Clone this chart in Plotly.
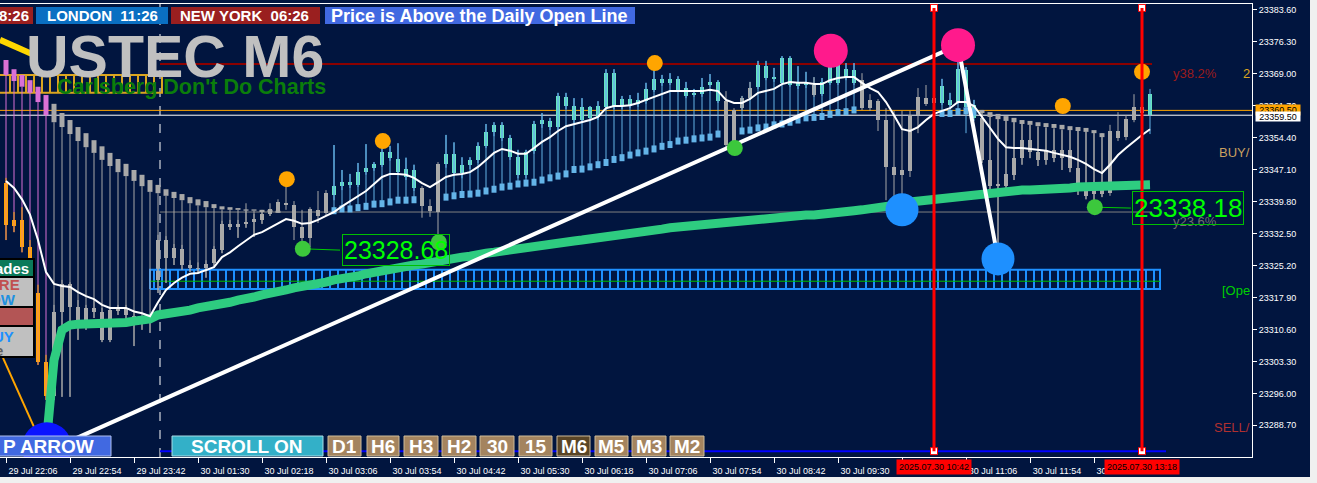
import plotly.graph_objects as go

FONT = "Liberation Sans, Arial, sans-serif"
BG = "#01153f"

# ---------------- data ----------------
time_labels = ["29 Jul 22:06", "29 Jul 22:54", "29 Jul 23:42", "30 Jul 01:30", "30 Jul 02:18",
               "30 Jul 03:06", "30 Jul 03:54", "30 Jul 04:42", "30 Jul 05:30", "30 Jul 06:18",
               "30 Jul 07:06", "30 Jul 07:54", "30 Jul 08:42", "30 Jul 09:30", "30 Jul 10:18",
               "30 Jul 11:06", "30 Jul 11:54", "30 Jul 12:42"]
label_bars = [0, 8, 16, 24, 32, 40, 48, 56, 64, 72, 80, 88, 96, 104, 112, 120, 128, 136]

price_ticks = [23288.7, 23296.0, 23303.3, 23310.6, 23317.9, 23325.2, 23332.5,
               23339.8, 23347.1, 23354.4, 23361.7, 23369.0, 23376.3, 23383.6]

opens = [
    23344.0, 23335.6, 23335.6, 23329.4, 23318.9, 23303.1, 23295.4, 23314.5, 23321.0, 23315.7,
    23312.2, 23315.5, 23314.5, 23308.2, 23315.0, 23315.2, 23313.6, 23312.2, 23312.7, 23321.9,
    23331.0, 23326.9, 23328.9, 23325.3, 23324.6, 23324.6, 23325.7, 23328.7, 23334.7, 23334.0,
    23334.7, 23335.1, 23335.6, 23337.0, 23337.7, 23339.4, 23338.9, 23334.0, 23331.5, 23337.9,
    23337.2, 23341.3, 23343.3, 23344.2, 23343.6, 23346.5, 23347.5, 23348.2, 23351.1, 23349.5,
    23347.2, 23347.0, 23342.9, 23338.7, 23337.4, 23348.4, 23350.7, 23346.3, 23348.2, 23349.3,
    23352.5, 23355.6, 23357.3, 23354.3, 23350.0, 23345.9, 23351.4, 23357.5, 23358.2, 23356.8,
    23363.7, 23361.6, 23358.4, 23361.4, 23359.1, 23361.4, 23369.1, 23361.6, 23363.2, 23362.1,
    23362.7, 23365.3, 23367.8, 23366.9, 23367.8, 23365.7, 23364.3, 23364.3, 23366.4, 23367.1,
    23362.7, 23352.7, 23361.1, 23363.4, 23366.0, 23370.7, 23368.0, 23366.9, 23372.6, 23366.2,
    23366.9, 23366.4, 23364.3, 23366.9, 23372.6, 23368.2, 23369.8, 23367.5, 23361.1, 23362.7,
    23358.4, 23347.7, 23345.9, 23346.8, 23359.5, 23363.4, 23363.4, 23362.3, 23363.0, 23362.5,
    23369.8, 23361.8, 23358.9, 23349.3, 23343.3, 23343.3, 23345.9, 23349.7, 23353.8, 23351.1,
    23349.3, 23351.6, 23349.7, 23351.6, 23347.5, 23342.4, 23341.5, 23342.9, 23341.7, 23355.9,
    23354.5, 23358.4, 23361.4, 23364.3]
highs = [
    23345.2, 23337.4, 23338.5, 23331.0, 23320.8, 23304.8, 23316.2, 23321.9, 23321.4, 23317.3,
    23316.2, 23317.3, 23315.5, 23315.5, 23316.2, 23316.2, 23314.3, 23313.2, 23313.6, 23332.2,
    23331.9, 23330.1, 23329.9, 23326.4, 23325.9, 23326.4, 23329.6, 23335.4, 23335.6, 23335.6,
    23339.4, 23337.0, 23337.9, 23339.4, 23340.3, 23344.9, 23339.9, 23337.9, 23338.5, 23342.2,
    23342.4, 23352.7, 23347.0, 23346.1, 23348.6, 23352.9, 23348.8, 23353.3, 23352.5, 23353.1,
    23349.8, 23348.2, 23343.3, 23340.3, 23348.8, 23355.0, 23353.3, 23349.9, 23349.9, 23353.3,
    23357.5, 23357.9, 23357.9, 23355.0, 23351.6, 23351.6, 23358.2, 23360.0, 23358.9, 23364.6,
    23364.6, 23363.4, 23363.4, 23361.6, 23362.7, 23370.0, 23370.0, 23363.9, 23364.1, 23364.6,
    23366.9, 23371.4, 23368.7, 23369.1, 23368.4, 23367.1, 23365.5, 23368.0, 23368.9, 23367.5,
    23365.0, 23361.1, 23363.9, 23367.1, 23371.9, 23371.9, 23370.3, 23373.0, 23373.0, 23370.7,
    23369.4, 23368.2, 23368.0, 23373.9, 23373.5, 23371.4, 23371.4, 23369.1, 23364.3, 23363.2,
    23361.1, 23360.5, 23360.5, 23360.5, 23365.7, 23366.4, 23367.1, 23367.8, 23364.6, 23375.5,
    23370.5, 23363.0, 23360.7, 23359.5, 23359.1, 23358.6, 23358.4, 23357.9, 23357.3, 23356.8,
    23356.6, 23356.3, 23356.1, 23356.1, 23355.9, 23356.3, 23355.9, 23355.4, 23357.3, 23360.2,
    23359.5, 23364.3, 23364.3, 23365.5]
lows = [
    23331.0, 23332.8, 23328.2, 23318.2, 23302.5, 23294.5, 23294.5, 23295.2, 23295.2, 23308.2,
    23310.5, 23313.2, 23307.7, 23307.7, 23313.9, 23312.7, 23306.8, 23310.5, 23309.8, 23318.9,
    23321.2, 23325.3, 23324.2, 23323.7, 23323.5, 23322.4, 23325.0, 23328.0, 23333.3, 23331.5,
    23333.8, 23331.7, 23334.7, 23336.5, 23337.2, 23337.9, 23331.0, 23330.3, 23329.4, 23334.9,
    23336.7, 23340.1, 23342.4, 23342.9, 23343.1, 23345.9, 23346.8, 23347.7, 23349.1, 23345.9,
    23344.7, 23342.2, 23336.1, 23336.3, 23330.3, 23347.5, 23345.6, 23345.1, 23347.2, 23348.6,
    23352.0, 23354.7, 23353.6, 23349.3, 23345.1, 23345.1, 23350.7, 23356.6, 23356.1, 23356.1,
    23360.9, 23357.7, 23357.7, 23358.2, 23358.4, 23360.7, 23360.9, 23360.9, 23361.1, 23361.4,
    23362.1, 23364.8, 23366.2, 23366.4, 23364.8, 23363.4, 23363.7, 23363.7, 23366.0, 23362.3,
    23352.2, 23351.6, 23360.7, 23363.0, 23365.5, 23367.5, 23367.1, 23366.4, 23366.0, 23365.5,
    23365.7, 23363.7, 23363.9, 23366.4, 23366.4, 23367.5, 23366.4, 23360.7, 23360.5, 23355.9,
    23340.1, 23340.1, 23337.6, 23345.4, 23355.4, 23361.6, 23361.8, 23361.8, 23361.4, 23362.1,
    23355.4, 23358.2, 23348.6, 23342.4, 23327.8, 23342.4, 23344.7, 23348.2, 23349.7, 23347.9,
    23348.2, 23348.8, 23347.0, 23346.5, 23341.3, 23340.3, 23339.0, 23340.8, 23341.1, 23353.6,
    23353.8, 23357.9, 23359.3, 23355.2]
closes = [
    23334.5, 23334.2, 23329.4, 23319.6, 23303.1, 23295.4, 23314.5, 23321.0, 23315.7, 23312.2,
    23315.5, 23314.5, 23308.2, 23315.0, 23315.2, 23313.9, 23312.0, 23312.7, 23312.0, 23331.0,
    23326.9, 23329.2, 23325.3, 23324.6, 23324.3, 23325.5, 23328.9, 23334.7, 23334.0, 23334.7,
    23335.1, 23335.8, 23337.0, 23338.0, 23339.6, 23338.9, 23334.0, 23331.5, 23338.0, 23336.5,
    23341.7, 23343.3, 23344.2, 23343.6, 23346.5, 23347.5, 23348.4, 23351.1, 23349.8, 23346.5,
    23345.4, 23342.9, 23338.7, 23337.7, 23348.4, 23350.7, 23346.3, 23348.2, 23349.3, 23352.5,
    23355.6, 23357.3, 23354.3, 23350.0, 23345.9, 23351.1, 23357.5, 23358.4, 23356.8, 23363.9,
    23361.6, 23358.4, 23361.4, 23358.9, 23361.6, 23369.1, 23361.6, 23363.2, 23361.6, 23363.0,
    23365.5, 23367.8, 23366.9, 23367.8, 23365.3, 23363.9, 23364.6, 23366.0, 23367.1, 23362.7,
    23352.7, 23360.7, 23363.4, 23365.7, 23371.0, 23368.0, 23367.8, 23372.6, 23366.4, 23366.9,
    23366.4, 23364.1, 23367.1, 23372.6, 23366.9, 23370.0, 23366.9, 23361.1, 23363.0, 23358.4,
    23347.7, 23345.9, 23347.0, 23359.5, 23363.7, 23362.1, 23362.3, 23366.2, 23361.8, 23370.0,
    23361.4, 23358.9, 23349.3, 23343.3, 23343.8, 23346.1, 23349.7, 23353.8, 23351.1, 23349.3,
    23351.6, 23349.7, 23351.6, 23347.5, 23342.4, 23341.1, 23342.9, 23341.5, 23355.9, 23354.3,
    23358.6, 23361.4, 23360.0, 23359.5]
# candle colour class per bar: O = orange, G = grey, A = aqua
candle_class = ("O" * 6 + "G" * 35 + "A" * 11 + "G" * 3 + "A" * 35 + "G" * 4 + "A" * 7 + "G"
                + "A" * 5 + "G" * 10 + "A" * 5 + "G" * 21 + "A")

fast_ma = [
    23344.5, 23342.9, 23340.3, 23336.8, 23331.0, 23323.7, 23321.0, 23320.5, 23320.3, 23319.1,
    23318.2, 23317.5, 23316.2, 23315.5, 23315.5, 23315.5, 23314.7, 23314.3, 23313.6, 23316.8,
    23319.6, 23321.2, 23322.4, 23323.3, 23323.5, 23324.2, 23324.8, 23327.1, 23328.2, 23329.6,
    23331.0, 23332.2, 23332.8, 23333.8, 23334.7, 23335.8, 23335.4, 23334.7, 23334.9, 23335.6,
    23336.5, 23337.4, 23338.7, 23339.9, 23341.0, 23342.2, 23343.8, 23345.4, 23346.1, 23346.1,
    23345.9, 23345.2, 23344.0, 23343.1, 23344.2, 23345.4, 23345.9, 23346.1, 23346.5, 23347.7,
    23349.3, 23350.9, 23351.8, 23351.4, 23350.7, 23350.7, 23352.0, 23353.4, 23354.5, 23355.9,
    23357.0, 23357.5, 23357.9, 23358.4, 23359.1, 23361.1, 23361.6, 23361.6, 23361.8, 23362.3,
    23363.0, 23363.7, 23364.3, 23365.0, 23365.0, 23365.0, 23365.0, 23365.0, 23365.3, 23365.0,
    23363.0, 23362.3, 23362.3, 23363.2, 23364.6, 23365.0, 23365.5, 23366.6, 23367.1, 23366.9,
    23366.9, 23366.6, 23366.6, 23367.5, 23368.0, 23368.2, 23368.2, 23366.9, 23365.7, 23364.8,
    23362.5, 23359.5, 23356.3, 23355.9, 23356.8, 23358.4, 23359.8, 23360.5, 23361.1, 23362.5,
    23362.5, 23361.6, 23359.1, 23356.6, 23354.1, 23352.2, 23352.0, 23352.0, 23351.8, 23351.6,
    23351.4, 23350.9, 23350.4, 23350.0, 23349.3, 23348.4, 23347.2, 23346.3, 23348.2, 23350.4,
    23352.0, 23353.6, 23355.0, 23356.3]

slow_ma = [None, None, None, None, None,
    23283.9, 23303.6, 23310.5, 23311.6, 23311.8, 23311.8, 23311.8, 23312.0, 23312.0, 23312.2,
    23312.2, 23312.5, 23312.7, 23313.0, 23313.9, 23314.1, 23314.5, 23314.8, 23315.0, 23315.5,
    23315.7, 23316.2, 23316.6, 23316.8, 23317.3, 23317.5, 23318.0, 23318.5, 23318.7, 23319.1,
    23319.6, 23320.1, 23320.3, 23320.8, 23321.2, 23321.4, 23321.9, 23322.1, 23322.6, 23322.8,
    23323.3, 23323.7, 23323.9, 23324.2, 23324.6, 23324.8, 23325.3, 23325.5, 23325.9, 23326.2,
    23326.4, 23326.9, 23327.1, 23327.3, 23327.8, 23328.0, 23328.2, 23328.5, 23328.9, 23329.2,
    23329.4, 23329.6, 23329.9, 23330.1, 23330.3, 23330.5, 23330.8, 23331.0, 23331.2, 23331.5,
    23331.7, 23331.9, 23332.2, 23332.4, 23332.6, 23332.8, 23333.3, 23333.5, 23333.8, 23334.0,
    23334.2, 23334.2, 23334.5, 23334.7, 23334.9, 23335.1, 23335.1, 23335.4, 23335.6, 23335.8,
    23335.8, 23336.1, 23336.3, 23336.3, 23336.5, 23336.7, 23336.7, 23337.0, 23337.2, 23337.4,
    23337.4, 23337.7, 23337.9, 23338.1, 23338.5, 23338.7, 23339.0, 23339.2, 23339.7, 23339.9,
    23340.3, 23340.6, 23340.8, 23341.1, 23341.3, 23341.5, 23341.7, 23341.7, 23342.0, 23342.0,
    23342.2, 23342.2, 23342.4, 23342.4, 23342.4, 23342.6, 23342.6, 23342.9, 23342.9, 23343.1,
    23343.1, 23343.1, 23343.3, 23343.3, 23343.3, 23343.3, 23343.6, 23343.6, 23343.6]

# trailing-stop boxes above price (high, low of the box)
pink_trail = {0: (23372.1, 23368.7), 1: (23370.0, 23367.3), 2: (23368.7, 23366.0),
              3: (23367.5, 23364.6), 4: (23366.0, 23362.5), 5: (23364.1, 23359.5)}
gray_trail = {6: (23362.1, 23357.9), 7: (23360.0, 23356.8), 8: (23358.4, 23355.2),
              9: (23356.8, 23353.6), 10: (23355.4, 23352.2), 11: (23353.8, 23350.9),
              12: (23352.4, 23349.3), 13: (23350.9, 23347.9), 14: (23349.5, 23346.5),
              15: (23348.4, 23345.6), 16: (23347.0, 23344.5), 17: (23345.9, 23343.3),
              18: (23344.7, 23342.0), 19: (23343.6, 23341.7), 20: (23342.6, 23341.1),
              21: (23342.0, 23340.6), 22: (23341.5, 23340.1), 23: (23340.8, 23339.4),
              24: (23340.3, 23338.9), 25: (23339.9, 23338.5), 26: (23339.2, 23338.3),
              27: (23338.7, 23338.0), 28: (23338.5, 23337.9), 29: (23338.3, 23337.9),
              30: (23338.0, 23337.7), 31: (23338.0, 23337.7), 32: (23337.9, 23337.4),
              33: (23337.9, 23337.4), 34: (23337.7, 23337.2),
              122: (23360.7, 23360.0), 123: (23360.2, 23359.1), 124: (23359.8, 23358.6),
              125: (23359.3, 23358.2), 126: (23358.9, 23357.9), 127: (23358.4, 23357.5),
              128: (23358.2, 23357.3), 129: (23357.9, 23357.0), 130: (23357.7, 23356.8),
              131: (23357.5, 23356.6), 132: (23357.3, 23356.3), 133: (23357.0, 23356.1),
              134: (23356.8, 23355.9), 135: (23356.6, 23355.7), 136: (23356.1, 23355.4),
              137: (23355.4, 23354.5)}
# trailing-stop boxes below price (centre)
blue_trail = {41: 23337.7, 42: 23338.1, 43: 23338.1, 44: 23338.4, 45: 23338.7, 46: 23339.2,
              47: 23339.3, 48: 23339.7, 49: 23340.1, 50: 23340.1, 51: 23340.2,
              55: 23340.8, 56: 23341.1, 57: 23341.4, 58: 23341.5, 59: 23341.7, 60: 23342.2,
              61: 23342.6, 62: 23343.1, 63: 23343.3, 64: 23343.8, 65: 23344.0, 66: 23344.2,
              67: 23344.7, 68: 23345.2, 69: 23345.6, 70: 23346.1, 71: 23347.1, 72: 23347.2,
              73: 23347.7, 74: 23348.2, 75: 23348.7, 76: 23349.4, 77: 23349.8, 78: 23350.4,
              79: 23350.9, 80: 23351.3, 81: 23351.8, 82: 23352.4, 83: 23352.8, 84: 23353.6,
              85: 23353.8, 86: 23354.1, 87: 23354.3, 88: 23354.5, 89: 23355.2,
              92: 23355.9, 93: 23356.1, 94: 23356.6, 95: 23356.8, 96: 23357.3, 97: 23357.5,
              98: 23357.9, 99: 23358.4, 100: 23358.9, 101: 23359.0, 102: 23359.2, 103: 23359.7,
              104: 23360.1, 105: 23360.3, 106: 23360.7,
              117: 23359.9, 118: 23359.9, 119: 23360.3, 120: 23360.5, 121: 23360.2}

# signal dots
orange_sig_x = [35.1, 47.1, 81.1, 132.1, 142.0]
orange_sig_y = [23344.9, 23353.6, 23371.4, 23361.6, 23369.4]
green_sig_x = [37.1, 54.1, 91.1, 136.1]
green_sig_y = [23329.0, 23330.5, 23352.0, 23338.5]
pink_sig_x = [103.1, 119.0]
pink_sig_y = [23374.2, 23375.5]
blue_sig_x = [112.0, 124.0]
blue_sig_y = [23337.9, 23326.7]
arrow_sig_x = [5.1]
arrow_sig_y = [23283.7]

zigzag_x = [5.5, 119.0, 124.0]
zigzag_y = [23283.1, 23375.5, 23326.7]

fib_382 = 23371.2
fib_236 = 23337.4
daily_open = 23360.6
bid_price = 23359.5
level_start, level_end = 19.25, 143.25
separator_bar = 19.25
bottom_line = 23282.8
vlines_bars = [116, 142]
vline_labels = ["2025.07.30 10:42", "2025.07.30 13:18"]

zone_start, zone_end, zone_top, zone_bot, zone_mid = 18.0, 144.25, 23324.2, 23319.8, 23321.6
gold_start, gold_end, gold_top, gold_bot = -0.75, 19.5, 23368.7, 23364.6

label_a = ("23328.68", 48.75, 23328.7, 41.75)
label_b = ("23338.18", 147.75, 23338.3, 140.6)

# ---------------- figure ----------------
fig = go.Figure()
X0, X1 = -0.75, 155.75
Y0, Y1 = 23281.47, 23384.89

def seg_trace(xs, y0s, y1s, color, width):
    X, Y = [], []
    for x, a, b in zip(xs, y0s, y1s):
        X += [x, x, None]
        Y += [a, b, None]
    return go.Scatter(x=X, y=Y, mode="lines", line=dict(color=color, width=width),
                      hoverinfo="skip", showlegend=False, connectgaps=False)

# hatched zones
zx = [k + 0.5 for k in range(int(zone_start), int(zone_end))]
fig.add_trace(seg_trace(zx, [zone_bot] * len(zx), [zone_top] * len(zx), "#1e90ff", 2))
fig.add_trace(go.Scatter(x=[zone_start, zone_end, zone_end, zone_start, zone_start],
                         y=[zone_bot, zone_bot, zone_top, zone_top, zone_bot], mode="lines",
                         line=dict(color="#1e90ff", width=2), hoverinfo="skip", showlegend=False))
fig.add_trace(go.Scatter(x=[zone_start, zone_end], y=[zone_mid, zone_mid], mode="lines",
                         line=dict(color="#00c000", width=1), hoverinfo="skip", showlegend=False))
gx = [k + 0.5 for k in range(int(gold_start), int(gold_end))]
fig.add_trace(seg_trace(gx, [gold_bot] * len(gx), [gold_top] * len(gx), "#daa520", 2))
fig.add_trace(go.Scatter(x=[gold_start, gold_end, gold_end, gold_start],
                         y=[gold_top, gold_top, gold_bot, gold_bot], mode="lines",
                         line=dict(color="#daa520", width=2), hoverinfo="skip", showlegend=False))

# yellow / orange indicator lines on the left
fig.add_trace(go.Scatter(x=[-0.75, 3.6], y=[23376.7, 23373.2], mode="lines",
                         line=dict(color="#ffd700", width=6), hoverinfo="skip", showlegend=False))
fig.add_trace(go.Scatter(x=[-0.375, 4.0], y=[23304.1, 23286.3], mode="lines",
                         line=dict(color="#ffa500", width=2), hoverinfo="skip", showlegend=False))

# connectors trail -> candle
pk = sorted(pink_trail)
fig.add_trace(seg_trace(pk, [pink_trail[i][1] for i in pk], [lows[i] for i in pk], "#da70d6", 1))
gk = sorted(gray_trail)
fig.add_trace(seg_trace(gk, [gray_trail[i][1] for i in gk], [lows[i] for i in gk], "#a8a8a8", 1))
bk = sorted(blue_trail)
fig.add_trace(seg_trace(bk, [blue_trail[i] for i in bk], [highs[i] for i in bk], "#64b4e8", 1))

# candle wicks
wick_col = {"O": "#ffa500", "G": "#a8a8a8", "A": "#64b4e8"}
body_col = {"O": "#ffa500", "G": "#a9a9a9", "A": "#66e6be"}
for cls in "OGA":
    idx = [i for i in range(len(opens)) if candle_class[i] == cls]
    fig.add_trace(seg_trace(idx, [lows[i] for i in idx], [highs[i] for i in idx], wick_col[cls], 1))

# trail boxes
fig.add_trace(seg_trace(pk, [pink_trail[i][1] for i in pk], [pink_trail[i][0] for i in pk], "#da70d6", 5))
fig.add_trace(seg_trace(gk, [gray_trail[i][1] for i in gk], [gray_trail[i][0] for i in gk], "#a8a8a8", 5))
fig.add_trace(seg_trace(bk, [blue_trail[i] - 0.8 for i in bk], [blue_trail[i] + 0.8 for i in bk], "#64b4e8", 5))

# candle bodies
n = len(opens)
bases = [min(opens[i], closes[i]) for i in range(n)]
heights = [max(abs(closes[i] - opens[i]), 0.25) for i in range(n)]
fig.add_trace(go.Bar(x=list(range(n)), y=heights, base=bases, width=0.62,
                     marker=dict(color=[body_col[c] for c in candle_class[:n]], line=dict(width=0)),
                     hoverinfo="skip", showlegend=False))

# moving averages
fig.add_trace(go.Scatter(x=list(range(len(slow_ma))), y=slow_ma, mode="lines",
                         line=dict(color="#2ecc80", width=9), hoverinfo="skip", showlegend=False))
fig.add_trace(go.Scatter(x=list(range(len(fast_ma))), y=fast_ma, mode="lines",
                         line=dict(color="#ffffff", width=2), hoverinfo="skip", showlegend=False))

# zigzag
fig.add_trace(go.Scatter(x=zigzag_x, y=zigzag_y, mode="lines", line=dict(color="#ffffff", width=4),
                         hoverinfo="skip", showlegend=False))

# label connectors
fig.add_trace(go.Scatter(x=[green_sig_x[0], label_a[3]], y=[green_sig_y[0], label_a[2]], mode="lines",
                         line=dict(color="#00cc00", width=1), hoverinfo="skip", showlegend=False))
fig.add_trace(go.Scatter(x=[green_sig_x[3], label_b[3]], y=[green_sig_y[3], label_b[2]], mode="lines",
                         line=dict(color="#00cc00", width=1), hoverinfo="skip", showlegend=False))

# signal dots
def dots(xs, ys, color, size):
    return go.Scatter(x=xs, y=ys, mode="markers", marker=dict(color=color, size=size, line=dict(width=0)),
                      hoverinfo="skip", showlegend=False)
fig.add_trace(dots(arrow_sig_x, arrow_sig_y, "#0a14ff", 50))
fig.add_trace(dots(orange_sig_x, orange_sig_y, "#ffa500", 16))
fig.add_trace(dots(green_sig_x, green_sig_y, "#3cc83c", 16))
fig.add_trace(dots(pink_sig_x, pink_sig_y, "#ff1a8c", 34))
fig.add_trace(dots(blue_sig_x, blue_sig_y, "#1e90ff", 33))

# vertical red lines end squares
fig.add_trace(go.Scatter(x=vlines_bars + vlines_bars, y=[23384.0] * 2 + [bottom_line] * 2, mode="markers",
                         marker=dict(symbol="square", size=7, color="#ffffff", line=dict(color="#ff0000", width=1)),
                         hoverinfo="skip", showlegend=False))

# ---------------- shapes & annotations ----------------
PL, PR, PT, PB = 0, 1252, 4, 457
def px(x): return (x - PL) / (PR - PL)
def py(y): return (PB - y) / (PB - PT)

shapes, ann = [], []

def hline(y, x0, x1, color, width, dash="solid", layer="below"):
    shapes.append(dict(type="line", xref="x", yref="y", x0=x0, x1=x1, y0=y, y1=y,
                       line=dict(color=color, width=width, dash=dash), layer=layer))

hline(fib_382, level_start, level_end, "#8b0000", 2)
hline(fib_236, level_start, level_end, "#808080", 1)
hline(daily_open, X0, X1, "#ffa500", 1)
hline(bid_price, X0, X1, "#ffffff", 1)
hline(bottom_line, level_start, 145, "#0000ff", 2)
shapes.append(dict(type="line", xref="x", yref="paper", x0=separator_bar, x1=separator_bar, y0=0, y1=1,
                   line=dict(color="#ffffff", width=1, dash="dash"), layer="below"))
for b in vlines_bars:
    shapes.append(dict(type="line", xref="x", yref="y", x0=b, x1=b, y0=bottom_line, y1=23384.0,
                       line=dict(color="#ff0000", width=3), layer="above"))

def rect(x0, y0, x1, y1, fill, line=None, lw=0):
    shapes.append(dict(type="rect", xref="paper", yref="paper", x0=px(x0), x1=px(x1), y0=py(y1), y1=py(y0),
                       fillcolor=fill, line=dict(color=line or fill, width=lw), layer="above"))

def text(x, y, s, size, color, bold=True, xanchor="center", xref="paper", yref="paper", **kw):
    ann.append(dict(xref=xref, yref=yref, x=px(x) if xref == "paper" else x,
                    y=py(y) if yref == "paper" else y,
                    text=("<b>%s</b>" % s) if bold else s, showarrow=False,
                    font=dict(size=size, color=color, family=FONT), xanchor=xanchor, yanchor="middle", **kw))

# right / bottom window strips
rect(1310, -10, 1330, 490, "#f0f0f0")
rect(-5, 477, 1330, 490, "#f0f0f0")

# header
rect(-5, 7, 33, 24, "#9a1f1f")
rect(36, 7, 168, 24, "#0a6fc2")
rect(171, 7, 320, 24, "#9a1f1f")
rect(325, 7, 635, 24, "#4169e1")
text(31, 15.5, "8:26", 15, "#ffffff", xanchor="right")
text(102, 15.5, "LONDON\u00a0\u00a011:26", 15, "#ffffff")
text(245, 15.5, "NEW YORK\u00a0\u00a006:26", 15, "#ffffff")
text(479, 15.5, "Price is Above the Daily Open Line", 18, "#ffffff")

# title
text(175, 57, "USTEC M6", 59, "#c0c0c0")
text(191, 87, "Carlsberg Don't Do Charts", 21.5, "#0b7d0b")

# left panel
rect(-3, 258, 35, 358, "#000000")
rect(-3, 260, 33, 276, "#0b7a5a")
rect(-3, 278, 33, 306, "#c0c0c0")
rect(-3, 308, 33, 325, "#b35555")
rect(-3, 327, 33, 356, "#c0c0c0")
text(31, 268, "ades", 15, "#ffffff", xanchor="right")
text(22, 284, "ARE", 15, "#c05050", xanchor="right")
text(18, 299, "OW", 15, "#2090e0", xanchor="right")
text(16, 336, "UY", 15, "#1e90ff", xanchor="right")
text(5, 350, "e", 15, "#606060", xanchor="right")

# bottom buttons
rect(-3, 436, 111, 456, "#4169e1", "#b0c0f0", 1)
text(1, 446, "P ARROW", 19, "#ffffff", xanchor="left")
rect(172, 436, 323, 456, "#33b0c8", "#a8dce6", 1)
text(247, 446, "SCROLL ON", 19, "#ffffff")
buttons = [("D1", 328, 361), ("H6", 367, 399), ("H3", 404, 438), ("H2", 442, 476), ("30", 480, 514),
           ("15", 519, 552), ("M6", 557, 590), ("M5", 595, 628), ("M3", 632, 666), ("M2", 670, 704)]
for lab, a, b in buttons:
    rect(a, 436, b, 456, "#5a4526" if lab == "M6" else "#a4845f", "#cdbb9a", 1)
    text((a + b) / 2, 446, lab, 19, "#ffffff")

# right side texts
text(148.6, 23369.1, "y38.2%", 13, "#9b1b1b", bold=False, xref="x", yref="y")
text(148.6, 23335.3, "y23.6%", 13, "#707070", bold=False, xref="x", yref="y")
text(1252, 73, "2", 13, "#daa520", bold=False, xanchor="right")
text(1252, 152, "BUY/", 13, "#c8a060", bold=False, xanchor="right")
text(1252, 290, "[Ope", 13, "#00d000", bold=False, xanchor="right")
text(1252, 427, "SELL/", 13, "#b03030", bold=False, xanchor="right")

# value labels
for (txt, lx, ly, left), size in ((label_a, 25), (label_b, 26)):
    ann.append(dict(xref="x", yref="y", x=lx, y=ly, text=txt, showarrow=False,
                    font=dict(size=size, color="#00ff00", family=FONT),
                    bordercolor="#00c000", borderwidth=1, borderpad=1, bgcolor="rgba(0,0,0,0)",
                    xanchor="center", yanchor="middle"))

# price axis markers
ann.append(dict(xref="paper", yref="y", x=px(1255), y=daily_open, text="23360.50", showarrow=False,
                font=dict(size=9, color="#000000", family=FONT), bgcolor="#ffa500",
                xanchor="left", yanchor="middle", borderpad=0, width=44, height=10))
ann.append(dict(xref="paper", yref="y", x=px(1255), y=bid_price, text="23359.50", showarrow=False,
                font=dict(size=9, color="#000000", family=FONT), bgcolor="#ffffff",
                xanchor="left", yanchor="top", borderpad=0, width=44, height=9, yshift=4))

# time axis markers on the vertical lines
for b, lab in zip(vlines_bars, vline_labels):
    ann.append(dict(xref="x", yref="paper", x=b, y=py(467), text=lab, showarrow=False,
                    font=dict(size=9, color="#000000", family=FONT), bgcolor="#ff0000",
                    xanchor="center", yanchor="middle", borderpad=2))

fig.update_layout(
    width=1317, height=483,
    margin=dict(l=PL, r=1317 - PR, t=PT, b=483 - PB, pad=0, autoexpand=False),
    paper_bgcolor=BG, plot_bgcolor=BG,
    showlegend=False, bargap=0,
    shapes=shapes, annotations=ann,
    font=dict(family=FONT, color="#ffffff"),
    xaxis=dict(range=[X0, X1], showgrid=False, zeroline=False, tickmode="array", automargin=False,
               tickvals=label_bars, ticktext=time_labels, ticks="outside", ticklen=5,
               tickcolor="#ffffff", tickfont=dict(size=9, color="#ffffff", family=FONT),
               showline=True, linecolor="#ffffff", linewidth=1, mirror=True,
               ticklabelshift=27, fixedrange=True),
    yaxis=dict(range=[Y0, Y1], side="right", showgrid=False, zeroline=False, tickmode="array",
               automargin=False,
               tickvals=price_ticks, ticktext=["%.2f" % v for v in price_ticks],
               ticks="outside", ticklen=4, tickcolor="#ffffff",
               tickfont=dict(size=9, color="#ffffff", family=FONT),
               showline=True, linecolor="#ffffff", linewidth=1, mirror=True, fixedrange=True),
)

fig.write_html("out.html", config={"displayModeBar": False},
               post_script="document.body.style.margin='0px';document.body.style.overflow='hidden';")
